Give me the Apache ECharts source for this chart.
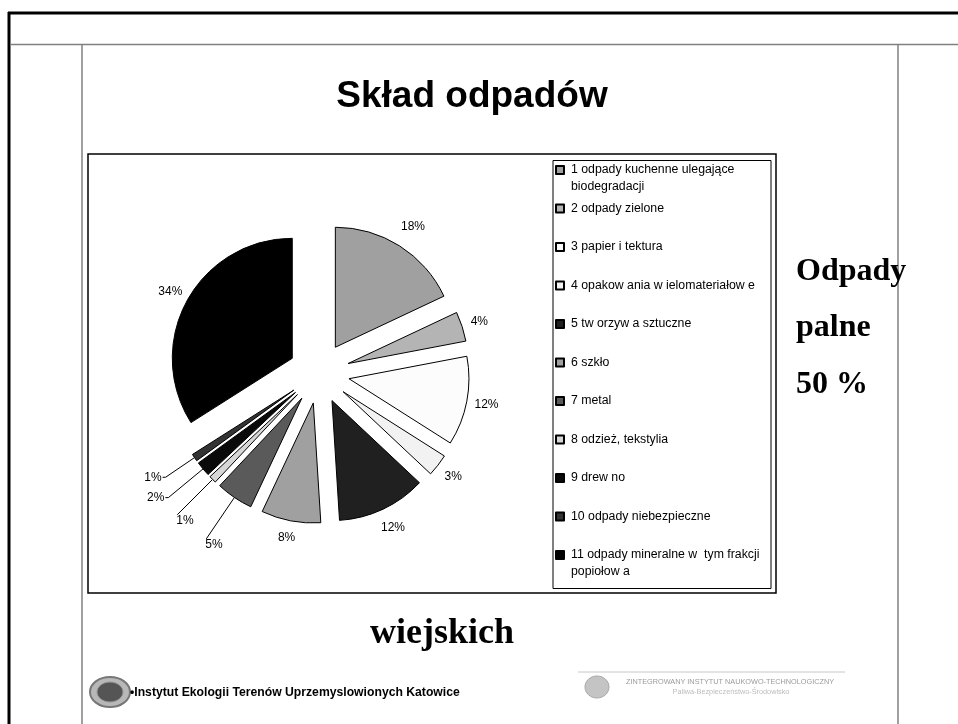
<!DOCTYPE html>
<html>
<head>
<meta charset="utf-8">
<script src="https://cdn.jsdelivr.net/npm/echarts@6/dist/echarts.min.js"></script>
<style>
  html, body { margin: 0; padding: 0; background: #fff; }
  #sklad { width: 958px; height: 724px; }
</style>
</head>
<body>
<div id="sklad"></div>
<script>
// categories as shown in the legend (line breaks as in the original)
const categories = [
  "1 odpady kuchenne ulegające\nbiodegradacji",
  "2 odpady zielone",
  "3 papier i tektura",
  "4 opakow ania w ielomateriałow e",
  "5 tw orzyw a sztuczne",
  "6 szkło",
  "7 metal",
  "8 odzież, tekstylia",
  "9 drew no",
  "10 odpady niebezpieczne",
  "11 odpady mineralne w  tym frakcji\npopiołow a",
];
// share in %
const values = [18, 4, 12, 3, 12, 8, 5, 1, 2, 1, 34];
const colors = [
  "#a0a0a0", "#b4b4b4", "#fcfcfc", "#f2f2f2", "#202020", "#a0a0a0",
  "#5a5a5a", "#d6d6d6", "#0a0a0a", "#333333", "#000000",
];
// label placement per slice
const lineLen = [23, 17, 19, 18, 21, 17, 50, 50, 45, 35, 18];
const lineLen2 = [0, 0, 0, 0, 0, 0, 0, 0, 3, 3, 0];
const showLine = [false, false, false, false, false, false, true, true, true, true, false];

const chartDom = document.getElementById("sklad");
const myChart = echarts.init(chartDom);

const pieData = values.map(function (v, i) {
  return {
    value: v,
    name: categories[i],
    selected: true,
    itemStyle: { color: colors[i] },
    labelLine: { show: showLine[i], length: lineLen[i], length2: lineLen2[i] },
  };
});

const serif = "Liberation Serif";
const sans = "Liberation Sans";

const option = {
  backgroundColor: "#fff",
  animation: false,
  textStyle: { fontFamily: sans },
  graphic: [
    // slide frame
    { type: "line", shape: { x1: 8, y1: 13, x2: 958, y2: 13 }, style: { stroke: "#000", lineWidth: 3 } },
    { type: "line", shape: { x1: 9, y1: 12, x2: 9, y2: 724 }, style: { stroke: "#000", lineWidth: 3 } },
    { type: "line", shape: { x1: 10, y1: 44.5, x2: 958, y2: 44.5 }, style: { stroke: "#808080", lineWidth: 1.5 } },
    { type: "line", shape: { x1: 82, y1: 44, x2: 82, y2: 724 }, style: { stroke: "#808080", lineWidth: 1.5 } },
    { type: "line", shape: { x1: 898, y1: 44, x2: 898, y2: 724 }, style: { stroke: "#808080", lineWidth: 1.5 } },
    // chart box and legend box
    { type: "rect", shape: { x: 88, y: 154, width: 688, height: 439 }, style: { fill: "none", stroke: "#000", lineWidth: 1.5 } },
    { type: "rect", shape: { x: 553, y: 160.5, width: 218, height: 428 }, style: { fill: "none", stroke: "#000", lineWidth: 1 } },
    // texts
    { type: "text", x: 472, y: 97, style: { text: "Skład odpadów", fontSize: 37, fontWeight: "bold", fontFamily: sans, fill: "#000", align: "center", verticalAlign: "middle" } },
    { type: "text", x: 796, y: 272, style: { text: "Odpady", fontSize: 32, fontWeight: "bold", fontFamily: serif, fill: "#000", align: "left", verticalAlign: "middle" } },
    { type: "text", x: 796, y: 328, style: { text: "palne", fontSize: 32, fontWeight: "bold", fontFamily: serif, fill: "#000", align: "left", verticalAlign: "middle" } },
    { type: "text", x: 796, y: 385, style: { text: "50 %", fontSize: 32, fontWeight: "bold", fontFamily: serif, fill: "#000", align: "left", verticalAlign: "middle" } },
    { type: "text", x: 442, y: 634, style: { text: "wiejskich", fontSize: 36, fontWeight: "bold", fontFamily: serif, fill: "#000", align: "center", verticalAlign: "middle" } },
    // footer left
    { type: "ellipse", shape: { cx: 110, cy: 692, rx: 20, ry: 15 }, style: { fill: "#b8b8b8", stroke: "#777", lineWidth: 2 } },
    { type: "ellipse", shape: { cx: 110, cy: 692, rx: 13, ry: 10 }, style: { fill: "#555", stroke: "#999", lineWidth: 1 } },
    { type: "text", x: 130, y: 693, style: { text: "•Instytut Ekologii Terenów Uprzemyslowionych Katowice", fontSize: 12.2, fontWeight: "bold", fontFamily: sans, fill: "#000", align: "left", verticalAlign: "middle" } },
    // footer right
    { type: "line", shape: { x1: 578, y1: 672, x2: 845, y2: 672 }, style: { stroke: "#c8c8c8", lineWidth: 1 } },
    { type: "ellipse", shape: { cx: 597, cy: 687, rx: 12, ry: 11 }, style: { fill: "#c4c4c4", stroke: "#a8a8a8", lineWidth: 1 } },
    { type: "text", x: 626, y: 682, style: { text: "ZINTEGROWANY INSTYTUT NAUKOWO-TECHNOLOGICZNY", fontSize: 7.3, fontFamily: sans, fill: "#9a9a9a", align: "left", verticalAlign: "middle" } },
    { type: "text", x: 731, y: 692, style: { text: "Paliwa-Bezpieczeństwo-Środowisko", fontSize: 7.3, fontFamily: sans, fill: "#bdbdbd", align: "center", verticalAlign: "middle" } },
  ],
  legend: {
    orient: "vertical",
    left: 555,
    top: 144.5,
    padding: 0,
    itemWidth: 8,
    itemHeight: 8,
    itemGap: -12.5,
    icon: "rect",
    selectedMode: false,
    // every item is three lines high so the first text line sits next to the icon
    formatter: function (name) {
      return name.indexOf("\n") >= 0 ? "\n" + name : "\n" + name + "\n";
    },
    textStyle: { fontSize: 12.3, color: "#000", fontFamily: sans, lineHeight: 17, padding: [0, 0, 0, 2] },
    data: categories,
  },
  series: [
    {
      type: "pie",
      center: [319, 373],
      radius: 120,
      startAngle: 90,
      clockwise: true,
      selectedMode: "multiple",
      selectedOffset: 30.5,
      avoidLabelOverlap: false,
      emphasis: { scale: false },
      itemStyle: { borderColor: "#000", borderWidth: 1 },
      label: {
        show: true,
        position: "outside",
        distanceToLabelLine: 1,
        fontSize: 12,
        color: "#000",
        fontFamily: sans,
        formatter: function (p) {
          return p.value + "%";
        },
      },
      labelLine: { lineStyle: { color: "#000", width: 1 } },
      labelLayout: function (p) {
        const i = p.dataIndex;
        if (i === 6 || i === 7) return { align: "left", verticalAlign: "top" };
        if (i === 8 || i === 9) return {};
        return { align: "center", verticalAlign: "middle" };
      },
      data: pieData,
    },
  ],
};

option && myChart.setOption(option);
</script>
</body>
</html>
